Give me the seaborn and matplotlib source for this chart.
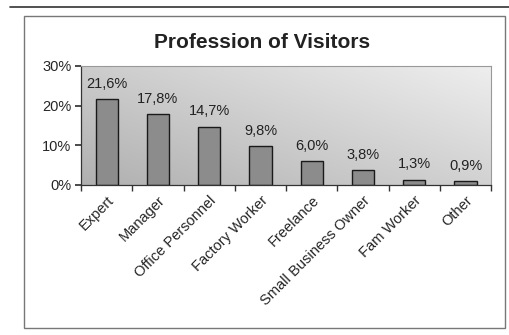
import matplotlib
matplotlib.use("Agg")
import matplotlib.pyplot as plt
import seaborn as sns
import numpy as np
import pandas as pd
from matplotlib.patches import Rectangle
from matplotlib.lines import Line2D

categories = ["Expert", "Manager", "Office Personnel", "Factory Worker",
              "Freelance", "Small Business Owner", "Fam Worker", "Other"]
values = [21.6, 17.8, 14.7, 9.8, 6.0, 3.8, 1.3, 0.9]
labels = ["21,6%", "17,8%", "14,7%", "9,8%", "6,0%", "3,8%", "1,3%", "0,9%"]
yticks = [0, 10, 20, 30]
ytick_labels = ["0%", "10%", "20%", "30%"]

sns.set_theme(style="white")
plt.rcParams['font.family'] = ['Liberation Sans', 'DejaVu Sans']

df = pd.DataFrame({"cat": categories, "val": values})

fig = plt.figure(figsize=(5.1, 3.35), dpi=100)
fig.patch.set_facecolor("white")

# outer border and top line
fig.add_artist(Rectangle((0.047, 0.021), 0.943, 0.931, transform=fig.transFigure,
                         fill=False, edgecolor="#777777", lw=1.0))
fig.add_artist(Line2D([0.02, 1.0], [0.979, 0.979], transform=fig.transFigure,
                      color="#333333", lw=1.2))

ax = fig.add_axes([0.159, 0.448, 0.804, 0.355])

# gradient background
nx, ny = 200, 100
xx, yy = np.meshgrid(np.linspace(0, 1, nx), np.linspace(0, 1, ny))
grad = 0.55 * xx + 0.45 * yy
ax.imshow(grad, extent=[-0.5, len(categories) - 0.5, 0, 30], origin="lower",
          cmap=matplotlib.colors.LinearSegmentedColormap.from_list("g", ["#b0b0b0", "#eeeeee"]),
          aspect="auto", zorder=0, interpolation="bilinear")

sns.barplot(data=df, x="cat", y="val", ax=ax, color="#8c8c8c", width=0.43,
            edgecolor="#1a1a1a", linewidth=1.0, saturation=1, zorder=2)

ax.set_xlim(-0.5, len(categories) - 0.5)
ax.set_ylim(0, 30)
ax.set_yticks(yticks)
ax.set_yticklabels(ytick_labels, fontsize=10.5)
ax.set_xlabel("")
ax.set_ylabel("")
ax.set_xticks(range(len(categories)))
ax.set_xticklabels(categories, rotation=45, ha="right", rotation_mode="anchor", fontsize=10.5)
ax.set_xticks(np.arange(-0.5, len(categories), 1), minor=True)
ax.tick_params(axis="x", which="major", length=0, pad=6)
ax.tick_params(axis="x", which="minor", length=4, direction="out", color="#333333", bottom=True)
ax.tick_params(axis="y", length=4, direction="out", color="#333333", left=True, pad=3)

for s in ["top", "right"]:
    ax.spines[s].set_color("#999999")
    ax.spines[s].set_linewidth(0.8)
for s in ["left", "bottom"]:
    ax.spines[s].set_color("#333333")
    ax.spines[s].set_linewidth(0.9)

ax.bar_label(ax.containers[0], labels=labels, padding=6, fontsize=10.5, color="#222222")

fig.text(0.514, 0.872, "Profession of Visitors", ha="center", va="center",
         fontsize=15, fontweight="bold", color="#222222")

fig.savefig("out.png", dpi=100)
